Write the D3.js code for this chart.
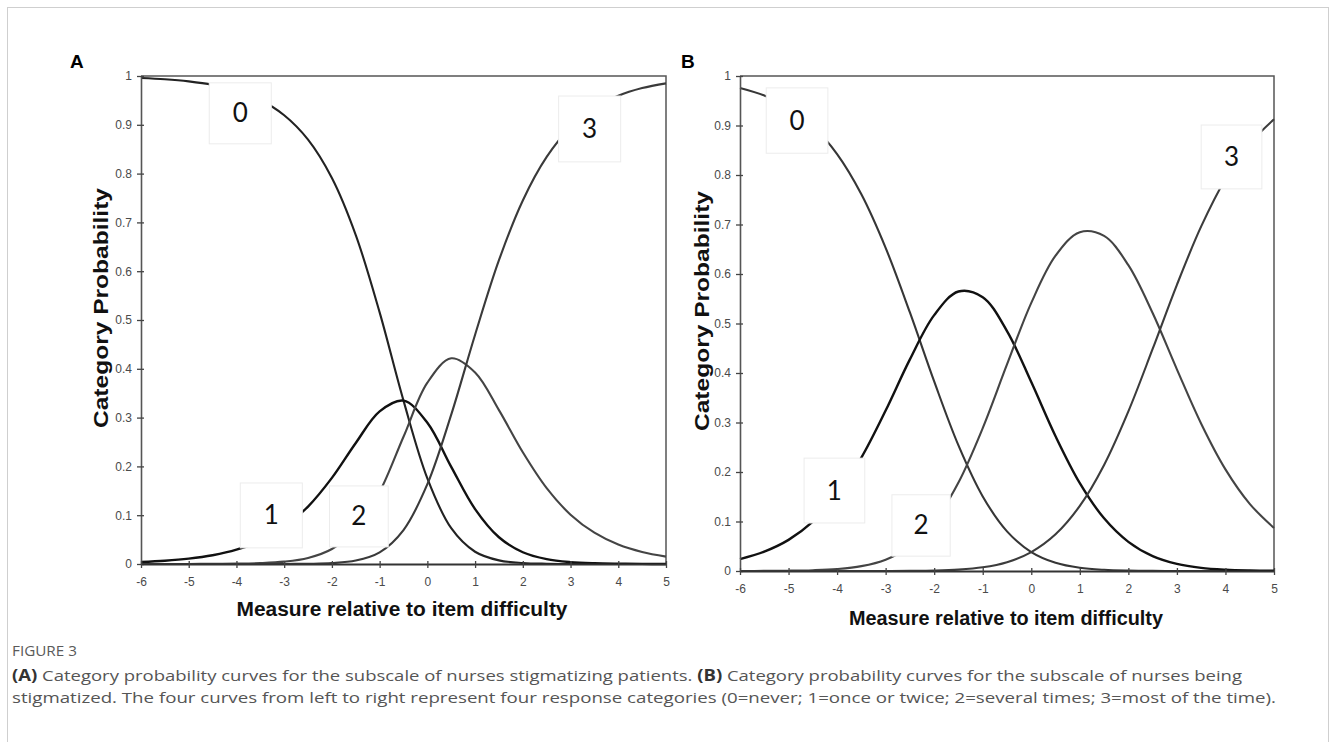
<!DOCTYPE html>
<html>
<head>
<meta charset="utf-8">
<script src="https://cdn.jsdelivr.net/npm/d3@7/dist/d3.min.js"></script>
<style>
  body { margin: 0; background: #fff; }
  svg { display: block; }
</style>
</head>
<body>
<script>
// measure grid (x values every half logit)
var xGrid = [-6, -5.5, -5, -4.5, -4, -3.5, -3, -2.5, -2, -1.5, -1, -0.5, 0, 0.5, 1, 1.5, 2, 2.5, 3, 3.5, 4, 4.5, 5];

// tick labels
var xTicks = [-6, -5, -4, -3, -2, -1, 0, 1, 2, 3, 4, 5];
var xTickLabels = ["-6", "-5", "-4", "-3", "-2", "-1", "0", "1", "2", "3", "4", "5"];
var yTicks = [0, 0.1, 0.2, 0.3, 0.4, 0.5, 0.6, 0.7, 0.8, 0.9, 1];
var yTickLabels = ["0", "0.1", "0.2", "0.3", "0.4", "0.5", "0.6", "0.7", "0.8", "0.9", "1"];

var categories = ["0", "1", "2", "3"];

// panel A - nurses stigmatizing patients
var probA0 = [0.9959, 0.9933, 0.9889, 0.9818, 0.9700, 0.9508, 0.9196, 0.8696, 0.7910, 0.6740, 0.5156, 0.3348, 0.1755, 0.0733, 0.0251, 0.0074, 0.0020, 0.0005, 0.0001, 0, 0, 0, 0];
var probA1 = [0.0041, 0.0067, 0.0110, 0.0180, 0.0293, 0.0473, 0.0755, 0.1177, 0.1765, 0.2480, 0.3127, 0.3348, 0.2893, 0.1991, 0.1125, 0.0548, 0.0241, 0.0099, 0.0039, 0.0015, 0.0006, 0.0002, 0.0001];
var probA2 = [0, 0, 0.0001, 0.0003, 0.0007, 0.0018, 0.0048, 0.0124, 0.0307, 0.0710, 0.1477, 0.2607, 0.3715, 0.4215, 0.3925, 0.3153, 0.2289, 0.1554, 0.1011, 0.0641, 0.0399, 0.0246, 0.0151];
var probA3 = [0, 0, 0, 0, 0, 0, 0.0001, 0.0005, 0.0018, 0.0070, 0.0239, 0.0696, 0.1636, 0.3061, 0.4699, 0.6225, 0.7450, 0.8341, 0.8948, 0.9344, 0.9595, 0.9752, 0.9849];

// panel B - nurses being stigmatized
var probB0 = [0.9758, 0.9606, 0.9365, 0.8988, 0.8421, 0.7610, 0.6528, 0.5223, 0.3829, 0.2537, 0.1507, 0.0801, 0.0383, 0.0166, 0.0065, 0.0024, 0.0008, 0.0002, 0.0001, 0, 0, 0, 0];
var probB1 = [0.0241, 0.0392, 0.0629, 0.0996, 0.1539, 0.2292, 0.3242, 0.4276, 0.5169, 0.5647, 0.5531, 0.4848, 0.3817, 0.2723, 0.1775, 0.1064, 0.0589, 0.0301, 0.0143, 0.0063, 0.0027, 0.0011, 0.0004];
var probB2 = [0.0001, 0.0002, 0.0006, 0.0016, 0.0040, 0.0098, 0.0229, 0.0498, 0.0993, 0.1788, 0.2887, 0.4172, 0.5417, 0.6370, 0.6845, 0.6769, 0.6178, 0.5211, 0.4074, 0.2975, 0.2053, 0.1357, 0.0869];
var probB3 = [0, 0, 0, 0, 0, 0, 0.0001, 0.0003, 0.0009, 0.0028, 0.0075, 0.0179, 0.0383, 0.0742, 0.1315, 0.2143, 0.3225, 0.4485, 0.5782, 0.6961, 0.7920, 0.8632, 0.9127];

var svgWidth = 1335;
var svgHeight = 742;

var svg = d3.select("body")
  .append("svg")
  .attr("width", svgWidth)
  .attr("height", svgHeight);

// light frame round the figure
svg.append("rect")
  .attr("x", 7.5).attr("y", 7.5)
  .attr("width", 1321).attr("height", 780)
  .attr("fill", "none")
  .attr("stroke", "#cfcfcf");

var panels = [
  {
    letter: "A", letterX: 70,
    left: 141, right: 666, top: 76, bottom: 564,
    xTitleX: 402, xTitleY: 616, xTitleLen: 331,
    yTitleX: 108, yTitleY: 308, yTitleLen: 240,
    series: [probA0, probA1, probA2, probA3],
    colors: ["#222", "#111", "#444", "#3a3a3a"],
    // label boxes in data units: [x0, x1, p0, p1]
    boxes: [[-4.57, -3.27, 0.986, 0.861], [-3.92, -2.62, 0.166, 0.033], [-2.05, -0.82, 0.160, 0.035], [2.75, 4.05, 0.959, 0.824]]
  },
  {
    letter: "B", letterX: 681,
    left: 740, right: 1274, top: 76, bottom: 571,
    xTitleX: 1006, xTitleY: 625, xTitleLen: 314,
    yTitleX: 709, yTitleY: 311, yTitleLen: 240,
    series: [probB0, probB1, probB2, probB3],
    colors: ["#363636", "#111", "#444", "#3c3c3c"],
    boxes: [[-5.46, -4.19, 0.976, 0.844], [-4.68, -3.43, 0.228, 0.097], [-2.87, -1.67, 0.154, 0.030], [3.50, 4.75, 0.901, 0.772]]
  }
];

panels.forEach(function(p) {
  var xScale = d3.scaleLinear().domain([-6, 5]).range([p.left, p.right]);
  var yScale = d3.scaleLinear().domain([0, 1]).range([p.bottom, p.top]);
  var g = svg.append("g");

  // top and right frame
  g.append("path")
    .attr("d", "M" + p.left + "," + p.top + "H" + p.right + "V" + p.bottom)
    .attr("fill", "none")
    .attr("stroke", "#555")
    .attr("stroke-width", 1.5);

  var line = d3.line()
    .x(function(d, i) { return xScale(xGrid[i]); })
    .y(function(d) { return yScale(d); })
    .curve(d3.curveCatmullRom.alpha(0.5));

  p.series.forEach(function(vals, k) {
    g.append("path")
      .datum(vals)
      .attr("d", line)
      .attr("fill", "none")
      .attr("stroke", p.colors[k])
      .attr("stroke-width", k == 1 ? 2.4 : 2.1);
  });

  // y axis
  var yAxis = g.append("g")
    .attr("transform", "translate(" + p.left + ",0)")
    .call(d3.axisLeft(yScale)
      .tickValues(yTicks)
      .tickFormat(function(d, i) { return yTickLabels[i]; })
      .tickSize(4).tickSizeOuter(0).tickPadding(5));
  yAxis.selectAll(".tick line").attr("x1", 3).attr("stroke", "#444").attr("stroke-width", 1.3);
  yAxis.select(".domain").attr("stroke", "#555").attr("stroke-width", 1.6);

  // x axis
  var xAxis = g.append("g")
    .attr("transform", "translate(0," + p.bottom + ")")
    .call(d3.axisBottom(xScale)
      .tickValues(xTicks)
      .tickFormat(function(d, i) { return xTickLabels[i]; })
      .tickSize(4).tickSizeOuter(0).tickPadding(9));
  xAxis.selectAll(".tick line").attr("y1", -3).attr("stroke", "#444").attr("stroke-width", 1.3);
  xAxis.select(".domain").attr("stroke", "#333").attr("stroke-width", 2);

  g.selectAll(".tick text")
    .style("font-family", "Arial, 'Liberation Sans', sans-serif")
    .style("font-size", "12px")
    .style("fill", "#4a4a4a");

  // category label boxes
  p.boxes.forEach(function(b, k) {
    var bx = xScale(b[0]), bw = xScale(b[1]) - xScale(b[0]);
    var by = yScale(b[2]), bh = yScale(b[3]) - yScale(b[2]);
    g.append("rect")
      .attr("x", bx).attr("y", by)
      .attr("width", bw).attr("height", bh)
      .attr("fill", "#fff")
      .attr("stroke", "#ececec");
    g.append("text")
      .attr("x", bx + bw / 2)
      .attr("y", by + bh / 2 + 9)
      .attr("text-anchor", "middle")
      .style("font-family", "Lato, 'Open Sans', sans-serif")
      .style("font-size", "26px")
      .style("fill", "#111")
      .text(categories[k]);
  });

  // panel letter
  svg.append("text")
    .attr("x", p.letterX).attr("y", 68)
    .style("font-family", "Arial, 'Liberation Sans', sans-serif")
    .style("font-weight", "bold")
    .style("font-size", "19px")
    .text(p.letter);

  // axis titles
  svg.append("text")
    .attr("x", p.xTitleX - p.xTitleLen / 2).attr("y", p.xTitleY)
    .attr("textLength", p.xTitleLen)
    .attr("lengthAdjust", "spacingAndGlyphs")
    .style("font-family", "Arial, 'Liberation Sans', sans-serif")
    .style("font-weight", "bold")
    .style("font-size", "20px")
    .style("fill", "#111")
    .text("Measure relative to item difficulty");

  svg.append("text")
    .attr("transform", "translate(" + p.yTitleX + "," + (p.yTitleY + p.yTitleLen / 2) + ") rotate(-90)")
    .attr("textLength", p.yTitleLen)
    .attr("lengthAdjust", "spacingAndGlyphs")
    .style("font-family", "Arial, 'Liberation Sans', sans-serif")
    .style("font-weight", "bold")
    .style("font-size", "21px")
    .style("fill", "#111")
    .text("Category  Probability");
});

// caption
var captionFont = "'Open Sans', 'Noto Sans', sans-serif";

var figLabel = svg.append("text")
  .attr("x", 12).attr("y", 656)
  .style("font-family", captionFont)
  .style("font-size", "12px")
  .style("fill", "#5a5a5a")
  .text("FIGURE 3");
figLabel.style("font-size", (12 * 65 / figLabel.node().getComputedTextLength()) + "px");

// each line is made of plain and bold pieces, set side by side and stretched to the reference width
function captionLine(y, parts, width) {
  var size = 15.2;
  var pieces = parts.map(function(s) {
    return svg.append("text")
      .attr("y", y)
      .style("white-space", "pre")
      .style("font-family", captionFont)
      .style("font-size", size + "px")
      .style("font-weight", s[1] ? "bold" : "normal")
      .style("fill", s[1] ? "#333" : "#555")
      .text(s[0]);
  });
  var lens = pieces.map(function(t) { return t.node().getComputedTextLength(); });
  var k = width / d3.sum(lens);
  var cx = 12;
  pieces.forEach(function(t, i) {
    t.attr("x", cx)
      .attr("textLength", lens[i] * k)
      .attr("lengthAdjust", "spacingAndGlyphs");
    cx += lens[i] * k;
  });
}

captionLine(681, [["(A)", true], [" Category probability curves for the subscale of nurses stigmatizing patients. ", false], ["(B)", true], [" Category probability curves for the subscale of nurses being", false]], 1230);
captionLine(703, [["stigmatized. The four curves from left to right represent four response categories (0=never; 1=once or twice; 2=several times; 3=most of the time).", false]], 1264);
</script>
</body>
</html>
